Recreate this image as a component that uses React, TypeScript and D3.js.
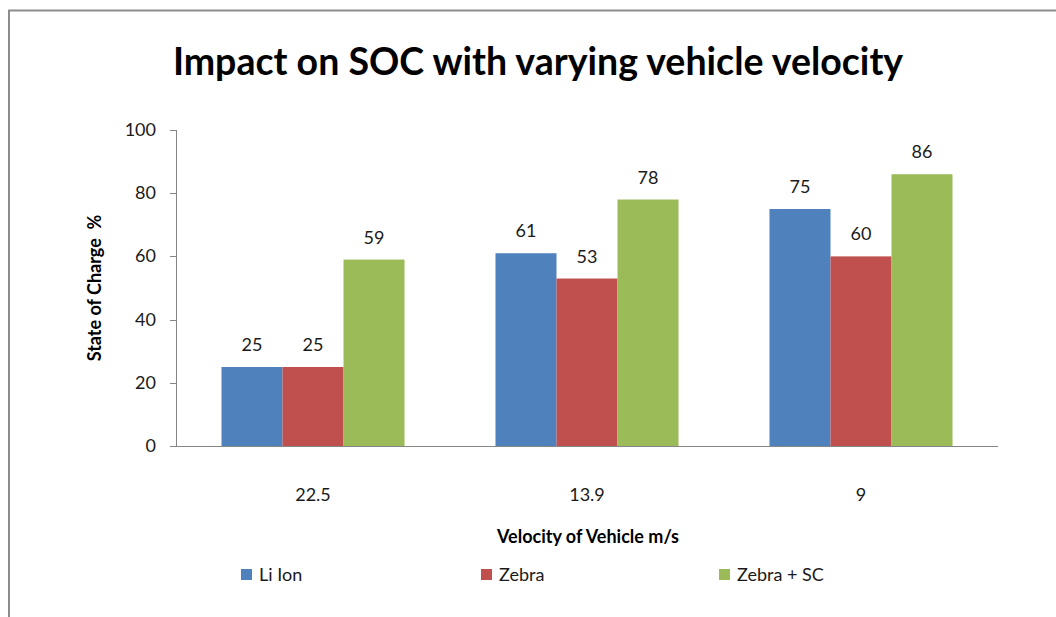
import React from "react";
import * as d3 from "d3";

const categories = ["22.5", "13.9", "9"];
const seriesNames = ["Li Ion", "Zebra", "Zebra + SC"];
const liIon = [25, 61, 75];
const zebra = [25, 53, 60];
const zebraSC = [59, 78, 86];
const yTicks = [0, 20, 40, 60, 80, 100];
const colors = ["#4F81BD", "#C0504D", "#9BBB59"];

const W = 1056, H = 617;
const left = 176, right = 998, top = 130, bottom = 446;
const FONT = "Lato, 'Open Sans', sans-serif";

export default function App() {
  const series = [liIon, zebra, zebraSC];
  const x0 = d3.scaleBand().domain(categories).range([left, right]).paddingInner(0.332).paddingOuter(0.166);
  const x1 = d3.scaleBand().domain(seriesNames).range([0, x0.bandwidth()]);
  const y = d3.scaleLinear().domain([0, 100]).range([bottom, top]);
  const legendX = [241, 481, 719];
  return (
    <svg width={W} height={H} style={{ position: "absolute", left: 0, top: 0, background: "#fff" }} fontFamily={FONT}>
      <rect x={0} y={0} width={W} height={H} fill="#fff" />
      <path d={`M9,${H} V10.5 H${W}`} fill="none" stroke="#8c8c8c" strokeWidth={2} />
      <text x={538} y={75} textAnchor="middle" fontSize={37.5} fontWeight={700} fill="#000">Impact on SOC with varying vehicle velocity</text>
      {/* y axis */}
      <line x1={left + 0.5} x2={left + 0.5} y1={top} y2={bottom} stroke="#868686" />
      {yTicks.map(t => (
        <g key={t}>
          <line x1={left - 6} x2={left} y1={Math.round(y(t)) + 0.5} y2={Math.round(y(t)) + 0.5} stroke="#868686" />
          <text x={left - 20} y={y(t) + 6} textAnchor="end" fontSize={18} fill="#1a1a1a">{t}</text>
        </g>
      ))}
      <line x1={left} x2={right} y1={bottom + 0.5} y2={bottom + 0.5} stroke="#868686" />
      {categories.map((c, i) => (
        <g key={c}>
          <text x={x0(c)! + x0.bandwidth() / 2} y={501} textAnchor="middle" fontSize={18} fill="#1a1a1a">{c}</text>
          {series.map((s, j) => {
            const bx = x0(c)! + x1(seriesNames[j])!;
            return (
              <g key={j}>
                <rect x={bx} y={y(s[i])} width={x1.bandwidth()} height={bottom - y(s[i])} fill={colors[j]} />
                <text x={bx + x1.bandwidth() / 2} y={y(s[i]) - 16} textAnchor="middle" fontSize={18} fill="#1a1a1a">{s[i]}</text>
              </g>
            );
          })}
        </g>
      ))}
      <text transform={`translate(101,${(top + bottom) / 2}) rotate(-90)`} textAnchor="middle" fontSize={18} fontWeight={700} fill="#000" style={{ whiteSpace: "pre" }}>{"State of Charge  %"}</text>
      <text x={588} y={543} textAnchor="middle" fontSize={18} fontWeight={700} fill="#000">Velocity of Vehicle m/s</text>
      {seriesNames.map((n, j) => (
        <g key={n}>
          <rect x={legendX[j]} y={569} width={11} height={11} fill={colors[j]} />
          <text x={legendX[j] + 18} y={581} fontSize={18} fill="#1a1a1a">{n}</text>
        </g>
      ))}
    </svg>
  );
}
